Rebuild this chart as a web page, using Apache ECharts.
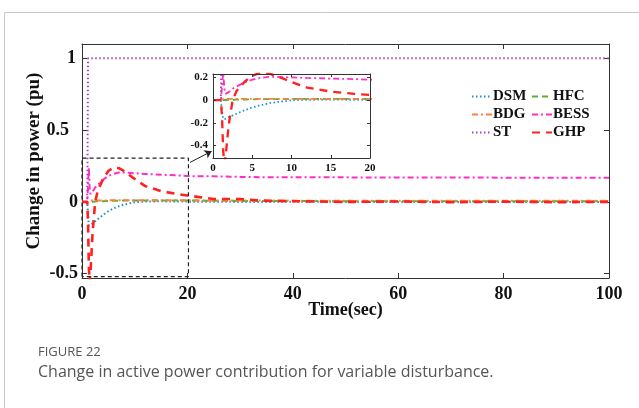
<!DOCTYPE html>
<html>
<head>
<meta charset="utf-8">
<script src="https://cdn.jsdelivr.net/npm/echarts@6/dist/echarts.min.js"></script>
<style>html,body{margin:0;padding:0;background:#fff}#c{width:639px;height:408px}</style>
</head>
<body>
<div id="c"></div>
<script>
// time (sec)
var timeSec = [0, 1, 1.15, 1.3, 1.45, 1.6, 2, 2.5, 3, 4, 5, 6, 7, 8, 10, 12, 15, 18, 20, 25, 30, 35, 40, 50, 60, 70, 80, 90, 100];
// change in power (pu)
var dsm  = [0, 0, -0.10, -0.165, -0.17, -0.165, -0.15, -0.135, -0.12, -0.09, -0.065, -0.045, -0.03, -0.018, -0.002, 0.003, 0.004, 0.003, 0.002, 0.001, 0.0, 0.0, 0.001, 0.0, 0.0, 0.0, 0.0, 0.0, 0.0];
var hfc  = [0, 0, 0.0, 0.0, 0.001, 0.001, 0.002, 0.003, 0.004, 0.005, 0.007, 0.008, 0.009, 0.009, 0.01, 0.01, 0.01, 0.01, 0.01, 0.008, 0.007, 0.006, 0.006, 0.005, 0.005, 0.005, 0.005, 0.005, 0.005];
var bdg  = [0, 0, 0.006, 0.008, 0.009, 0.01, 0.01, 0.01, 0.01, 0.01, 0.011, 0.011, 0.011, 0.011, 0.011, 0.011, 0.011, 0.011, 0.011, 0.01, 0.01, 0.009, 0.009, 0.008, 0.008, 0.008, 0.008, 0.008, 0.008];
var bess = [0, 0, 0.12, 0.24, 0.10, 0.055, 0.07, 0.10, 0.12, 0.155, 0.18, 0.195, 0.205, 0.205, 0.20, 0.195, 0.19, 0.185, 0.18, 0.178, 0.174, 0.172, 0.172, 0.171, 0.17, 0.17, 0.169, 0.169, 0.168];
var st   = [0, 0, 1, 1, 1, 1, 1, 1, 1, 1, 1, 1, 1, 1, 1, 1, 1, 1, 1, 1, 1, 1, 1, 1, 1, 1, 1, 1, 1];
var ghp  = [0, 0, -0.15, -0.45, -0.56, -0.50, -0.22, 0.0, 0.08, 0.16, 0.215, 0.24, 0.235, 0.215, 0.16, 0.11, 0.075, 0.055, 0.045, 0.02, 0.02, 0.008, 0.005, 0.0, 0.003, -0.002, 0.002, -0.002, 0.0];
// zoom box drawn on the main plot
var boxT = [0, 0, 20.2, 20.2, 0];
var boxV = [-0.52, 0.305, 0.305, -0.52, -0.52];
// tick labels
var mainXTicks = [0, 20, 40, 60, 80, 100];
var mainYTicks = [-0.5, 0, 0.5, 1];
var insetXTicks = [0, 5, 10, 15, 20];
var insetYTicks = [-0.4, -0.2, 0, 0.2];

var names = ['DSM', 'HFC', 'BDG', 'BESS', 'ST', 'GHP'];
var values = [dsm, hfc, bdg, bess, st, ghp];
var colors = ['#1a8fd8', '#5cb030', '#ff7f40', '#ff2ec8', '#a844c8', '#ff2020'];
var dashes = [[1.5, 2.5], [6, 4], [6, 3, 2, 3], [6, 3, 2, 3], [1.5, 2.5], [8, 6]];
var widths = [2, 2, 2, 2, 2, 2.6];

function pairs(t, v) { return t.map(function (x, i) { return [x, v[i]]; }); }

var serif = 'Liberation Serif';
var axisColor = '#333';

var series = [];
names.forEach(function (n, i) {
  series.push({
    name: n, type: 'line', xAxisIndex: 0, yAxisIndex: 0, data: pairs(timeSec, values[i]),
    showSymbol: false, symbol: 'none', z: 2,
    lineStyle: { color: colors[i], width: widths[i], type: dashes[i] }, itemStyle: { color: colors[i] }
  });
});
names.forEach(function (n, i) {
  series.push({
    name: n, type: 'line', xAxisIndex: 2, yAxisIndex: 2, data: pairs(timeSec, values[i]),
    showSymbol: false, symbol: 'none', z: 11,
    lineStyle: { color: colors[i], width: widths[i] * 0.9, type: dashes[i] }, itemStyle: { color: colors[i] }
  });
});
series.push({
  type: 'line', xAxisIndex: 0, yAxisIndex: 0, data: pairs(boxT, boxV), showSymbol: false, symbol: 'none', z: 3,
  lineStyle: { color: '#222', width: 1.2, type: [4, 3] }, silent: true,
  markLine: {
    silent: true, symbol: ['none', 'arrow'], symbolSize: 7, label: { show: false },
    lineStyle: { color: '#222', width: 1, type: 'solid' },
    data: [[{ coord: [20.5, 0.275] }, { coord: [24.6, 0.353] }]]
  }
});

function axisBase(extra) {
  var o = {
    type: 'value', splitLine: { show: false },
    axisLine: { show: true, onZero: false, lineStyle: { color: axisColor, width: 1 } },
    axisTick: { show: true, inside: true, length: 5, lineStyle: { color: axisColor } }
  };
  for (var k in extra) o[k] = extra[k];
  return o;
}

var mainLabel = { fontFamily: serif, fontWeight: 'bold', fontSize: 18, color: '#111' };
var insetLabel = { fontFamily: serif, fontWeight: 'bold', fontSize: 11, color: '#111' };
var legendText = { fontFamily: serif, fontWeight: 'bold', fontSize: 15, color: '#111', padding: [0, 0, 0, -4] };

var option = {
  animation: false,
  backgroundColor: '#fff',
  title: [
    { text: 'FIGURE 22', left: 33, top: 341, textStyle: { fontFamily: 'Open Sans', fontSize: 13, fontWeight: 'normal', color: '#555' } },
    { text: 'Change in active power contribution for variable disturbance.', left: 33, top: 359, textStyle: { fontFamily: 'Open Sans', fontSize: 16, fontWeight: 'normal', color: '#555' } }
  ],
  graphic: [
    { type: 'rect', shape: { x: 4.5, y: 12.5, width: 800, height: 600 }, style: { fill: 'none', stroke: '#c8c8c8', lineWidth: 1 }, z: -1, silent: true }
  ],
  legend: [
    { data: ['DSM', 'BDG', 'ST'], orient: 'vertical', left: 466, top: 84, itemWidth: 20, itemHeight: 14, itemGap: 3,
      itemStyle: { opacity: 0 }, textStyle: legendText },
    { data: ['HFC', 'BESS', 'GHP'], orient: 'vertical', left: 526, top: 84, itemWidth: 20, itemHeight: 14, itemGap: 3,
      itemStyle: { opacity: 0 }, textStyle: legendText }
  ],
  grid: [
    { left: 82, top: 44, right: 30, bottom: 130, containLabel: false },
    { left: 213, top: 74, width: 157, height: 84, containLabel: false, show: true, backgroundColor: '#fff', borderWidth: 0, z: 10 }
  ],
  xAxis: [
    axisBase({ gridIndex: 0, position: 'bottom', min: 0, max: 100, interval: 20,
      name: 'Time(sec)', nameLocation: 'middle', nameGap: 23, nameMoveOverlap: false,
      nameTextStyle: { fontFamily: serif, fontWeight: 'bold', fontSize: 18, color: '#111' },
      axisLabel: Object.assign({ margin: 7, customValues: mainXTicks }, mainLabel),
      axisTick: { show: true, inside: true, length: 5, customValues: mainXTicks, lineStyle: { color: axisColor } } }),
    axisBase({ gridIndex: 0, position: 'top', min: 0, max: 100, interval: 20, axisLabel: { show: false } }),
    axisBase({ gridIndex: 1, position: 'bottom', min: 0, max: 20, interval: 5, z: 12,
      axisLabel: Object.assign({ margin: 5, customValues: insetXTicks }, insetLabel),
      axisTick: { show: true, inside: true, length: 3, customValues: insetXTicks, lineStyle: { color: axisColor } } }),
    axisBase({ gridIndex: 1, position: 'top', min: 0, max: 20, interval: 5, z: 12, axisLabel: { show: false },
      axisTick: { show: true, inside: true, length: 3, lineStyle: { color: axisColor } } })
  ],
  yAxis: [
    axisBase({ gridIndex: 0, position: 'left', min: -0.53, max: 1.1,
      name: 'Change in power (pu)', nameLocation: 'middle', nameGap: 38, nameMoveOverlap: false,
      nameTextStyle: { fontFamily: serif, fontWeight: 'bold', fontSize: 19, color: '#111' },
      axisLabel: Object.assign({ margin: 4, customValues: mainYTicks,
        formatter: function (v) { if (Math.abs(v - 0.5) < 1e-9) return '{s|0.5}'; if (Math.abs(v - 1) < 1e-9) return '{o|1}'; return String(v); },
        rich: { s: { fontFamily: serif, fontWeight: 'bold', fontSize: 18, color: '#111', padding: [0, 9, 0, 0] },
                o: { fontFamily: serif, fontWeight: 'bold', fontSize: 18, color: '#111', padding: [0, 2, 0, 0] } } }, mainLabel),
      axisTick: { show: true, inside: true, length: 5, customValues: mainYTicks, lineStyle: { color: axisColor } } }),
    axisBase({ gridIndex: 0, position: 'right', min: -0.53, max: 1.1, axisLabel: { show: false },
      axisTick: { show: true, inside: true, length: 5, customValues: mainYTicks, lineStyle: { color: axisColor } } }),
    axisBase({ gridIndex: 1, position: 'left', min: -0.51, max: 0.23, z: 12,
      axisLabel: Object.assign({ margin: 5, customValues: insetYTicks }, insetLabel),
      axisTick: { show: true, inside: true, length: 3, customValues: insetYTicks, lineStyle: { color: axisColor } } }),
    axisBase({ gridIndex: 1, position: 'right', min: -0.51, max: 0.23, z: 12, axisLabel: { show: false },
      axisTick: { show: true, inside: true, length: 3, customValues: insetYTicks, lineStyle: { color: axisColor } } })
  ],
  series: series
};

var chart = echarts.init(document.getElementById('c'), null, { renderer: 'canvas' });
chart.setOption(option);
</script>
</body>
</html>
